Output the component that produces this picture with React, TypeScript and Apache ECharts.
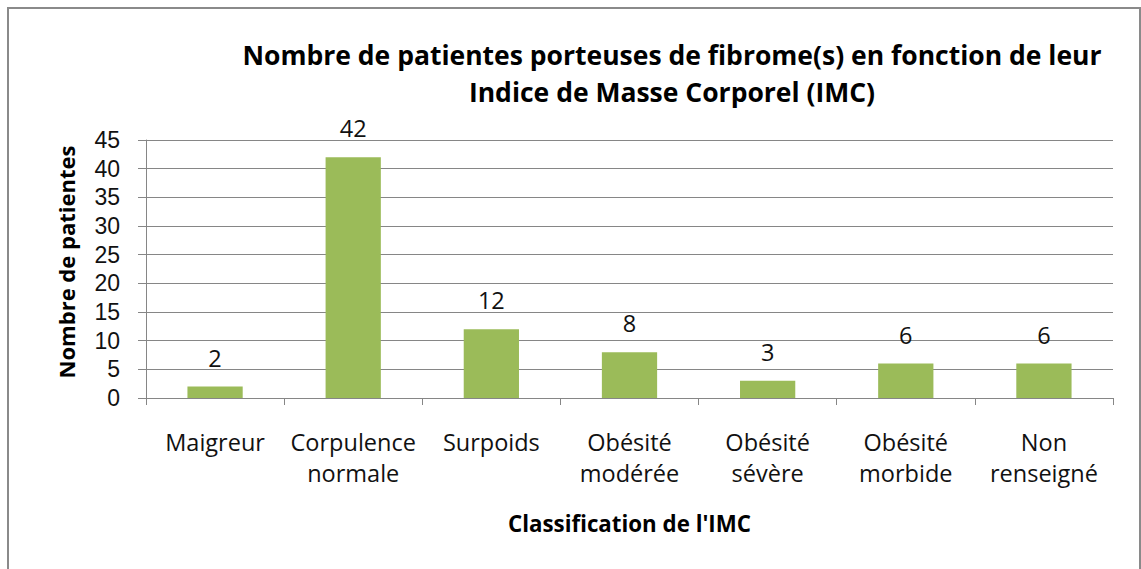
import React, { useEffect, useRef } from "react";
import * as echarts from "echarts";

const categories = [
  "Maigreur",
  "Corpulence\nnormale",
  "Surpoids",
  "Obésité\nmodérée",
  "Obésité\nsévère",
  "Obésité\nmorbide",
  "Non\nrenseigné",
];
const values = [2, 42, 12, 8, 3, 6, 6];
const titleText = "Nombre de patientes porteuses de fibrome(s) en fonction de leur\nIndice de Masse Corporel (IMC)";
const yAxisTitle = "Nombre de patientes";
const xAxisTitle = "Classification de l'IMC";

const FONT = "'Open Sans', sans-serif";

export default function App() {
  const ref = useRef<HTMLDivElement>(null);
  useEffect(() => {
    if (!ref.current) return;
    const chart = echarts.init(ref.current, null, { renderer: "svg" });
    chart.setOption({
      animation: false,
      backgroundColor: "#ffffff",
      title: {
        text: titleText,
        left: 667,
        top: 31,
        textAlign: "center",
        textStyle: {
          fontFamily: FONT,
          fontWeight: "bold",
          fontSize: 26.5,
          lineHeight: 37,
          color: "#000",
        },
      },
      graphic: [
        {
          type: "rect",
          shape: { x: 8, y: 8, width: 1132, height: 600 },
          style: { fill: "none", stroke: "#8a8a8a", lineWidth: 2 },
          silent: true,
        },
        {
          type: "text",
          x: 66,
          y: 262,
          rotation: Math.PI / 2,
          silent: true,
          style: {
            text: yAxisTitle,
            align: "center",
            verticalAlign: "middle",
            fontFamily: FONT,
            fontWeight: "bold",
            fontSize: 22,
            fill: "#000",
          },
        },
      ],
      grid: { left: 146, right: 28, top: 140, bottom: 171, containLabel: false },
      xAxis: {
        type: "category",
        data: categories,
        name: xAxisTitle,
        nameLocation: "middle",
        nameGap: 114,
        nameTextStyle: {
          fontFamily: FONT,
          fontWeight: "bold",
          fontSize: 22.3,
          color: "#000",
        },
        axisLine: { lineStyle: { color: "#868686", width: 1 } },
        axisTick: { show: true, length: 7, lineStyle: { color: "#868686" } },
        axisLabel: {
          fontFamily: FONT,
          fontSize: 23.5,
          lineHeight: 31,
          color: "#111",
          margin: 28,
          interval: 0,
        },
      },
      yAxis: {
        type: "value",
        min: 0,
        max: 45,
        interval: 5,
        axisLine: { show: true, lineStyle: { color: "#868686", width: 1 } },
        axisTick: { show: true, length: 8, lineStyle: { color: "#868686" } },
        splitLine: { show: true, lineStyle: { color: "#868686", width: 1 } },
        axisLabel: {
          fontFamily: "'Liberation Sans', Arial, sans-serif",
          fontSize: 23,
          lineHeight: 22,
          color: "#111",
          margin: 26,
        },
      },
      series: [
        {
          type: "bar",
          data: values,
          barWidth: "40%",
          itemStyle: { color: "#9BBB59" },
          label: {
            show: true,
            position: "top",
            distance: 17,
            fontFamily: FONT,
            fontSize: 23.5,
            lineHeight: 24,
            color: "#111",
          },
        },
      ],
    });
    return () => chart.dispose();
  }, []);
  return (
    <div
      ref={ref}
      style={{ position: "absolute", left: 0, top: 0, width: 1141, height: 569 }}
    />
  );
}
